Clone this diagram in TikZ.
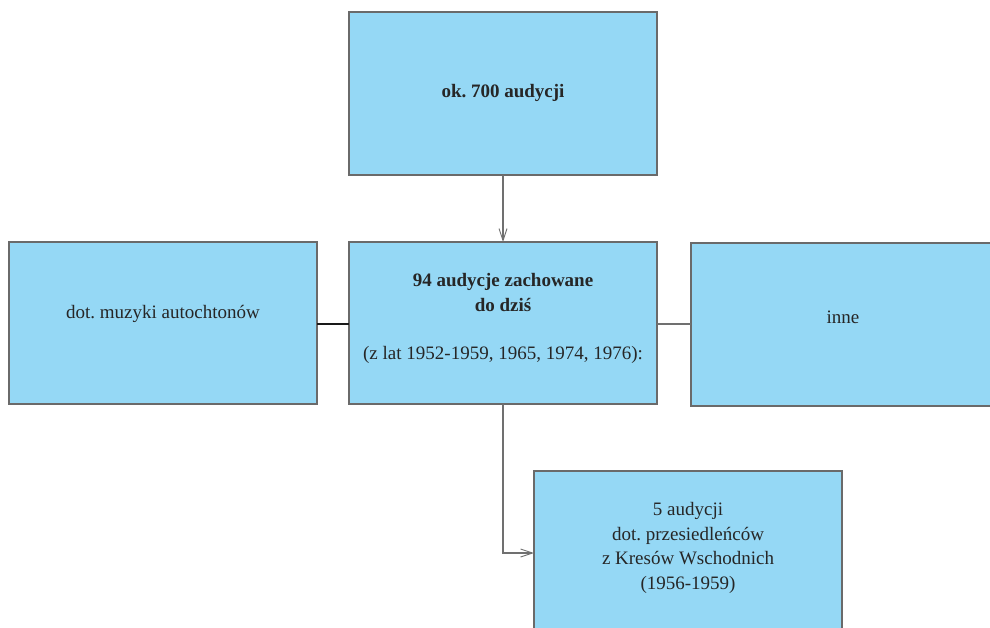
\documentclass[tikz,border=0pt]{standalone}
\usepackage{fontspec}
\setmainfont{Liberation Serif}
\usetikzlibrary{arrows.meta}
\definecolor{boxfill}{HTML}{95D8F5}
\definecolor{boxline}{HTML}{6A6A6A}
\definecolor{conn}{HTML}{707070}
\frenchspacing
\begin{document}
\begin{tikzpicture}[x=1pt,y=-1pt,
  box/.style={draw=boxline,line width=1.2pt,fill=boxfill},
  lbl/.style={font=\fontsize{19}{24.5}\selectfont,align=center,text=black!85,inner sep=0pt},
  conline/.style={draw=conn,line width=1.1pt},
  tip/.style={-{Straight Barb[length=12pt,width=8pt,line width=0.9pt]}}]
\useasboundingbox (0,0) rectangle (990,628);
% boxes
\draw[box] (349,12) rectangle (657,175);
\draw[box] (9,242) rectangle (317,404);
\draw[box] (349,242) rectangle (657,404);
\draw[box] (691,243) rectangle (995,406);
\draw[box] (534,471) rectangle (842,640);
% nodes
\node[lbl] (top) at (503,93) {\bfseries ok. 700 audycji};
\node[lbl] (lft) at (163,314) {dot. muzyki autochtonów};
\node[lbl] (rgt) at (843,317) {inne};
\node[lbl] (mid1) at (503,292.5) {\bfseries 94 audycje zachowane\\\bfseries do dziś};
\node[lbl] (mid2) at (503,355) {(z lat 1952-1959, 1965, 1974, 1976):};
\node[lbl] (bot) at (688,548) {5 audycji\\dot. przesiedleńców\\z Kresów Wschodnich\\(1956-1959)};
% connector anchors
\coordinate (topS) at (503,175);
\coordinate (midN) at (503,242);
\coordinate (midS) at (503,404);
\coordinate (midW) at (349,324);
\coordinate (midE) at (657,324);
\coordinate (lftE) at (317,324);
\coordinate (rgtW) at (691,324);
\coordinate (botW) at (534,553);
\draw[conline,tip] (topS) -- (midN);
\draw[draw=black!90,line width=1.4pt] (lftE) -- (midW);
\draw[conline] (midE) -- (rgtW);
\draw[conline,tip] (midS) |- (botW);
\end{tikzpicture}
\end{document}
